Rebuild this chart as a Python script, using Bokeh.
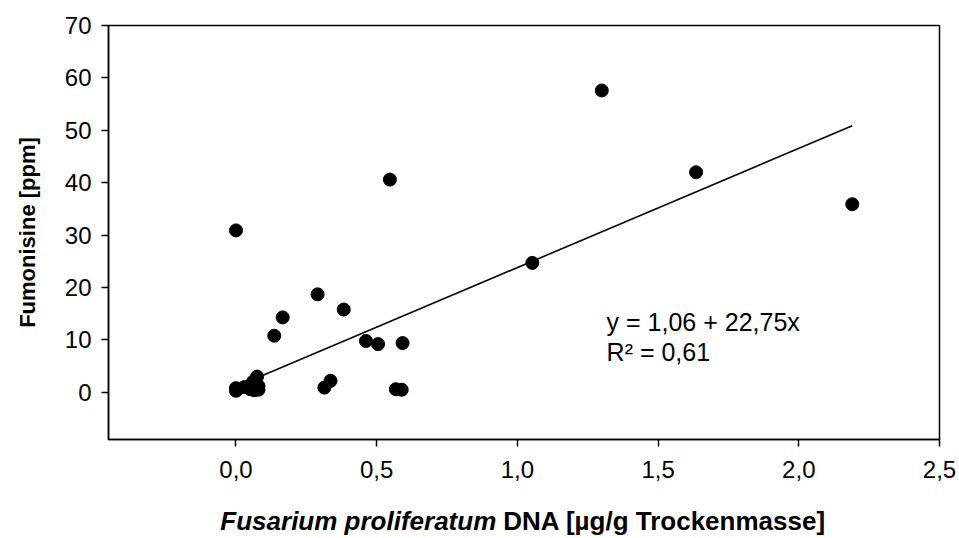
import numpy as np
from bokeh.plotting import figure
from bokeh.layouts import column
from bokeh.models import Range1d, FixedTicker, CustomJSTickFormatter, Label
from bokeh.core.properties import value
from bokeh.embed import file_html
from bokeh.resources import INLINE

# Data
dna = [0.0, 0.0, 0.005, 0.03, 0.05, 0.06, 0.065, 0.07, 0.075, 0.08, 0.08,
       0.136, 0.166, 0.29, 0.314, 0.336, 0.383, 0.462, 0.505, 0.547, 0.568,
       0.589, 0.592, 1.053, 1.30, 1.635, 2.19, 0.0]
fumonisine = [0.3, 0.8, 0.5, 1.0, 0.6, 2.0, 0.4, 1.5, 3.0, 1.2, 0.5,
              10.8, 14.3, 18.7, 0.9, 2.2, 15.8, 9.8, 9.2, 40.6, 0.6,
              0.5, 9.4, 24.7, 57.6, 42.0, 35.9, 30.9]
intercept = 1.06
slope = 22.75
r_squared = 0.61
x_ticks = [0.0, 0.5, 1.0, 1.5, 2.0, 2.5]
y_ticks = [0, 10, 20, 30, 40, 50, 60, 70]
x_label_italic = "Fusarium proliferatum"
x_label_bold = "DNA [µg/g Trockenmasse]"
y_label = "Fumonisine [ppm]"

FONT = "Liberation Sans"
xr = Range1d(-0.453, 2.5)

p = figure(width=959, height=490, output_backend="svg", toolbar_location=None,
           x_range=xr, y_range=Range1d(-9, 70),
           min_border_left=108, min_border_right=20, min_border_top=25,
           min_border_bottom=51)
p.xgrid.visible = False
p.ygrid.visible = False
p.outline_line_color = "black"
p.outline_line_width = 1.5
p.background_fill_color = "white"
p.border_fill_color = "white"

# regression line
lx = np.array([min(dna), max(dna)])
ly = intercept + slope * lx
p.line(lx, ly, line_color="black", line_width=1.6)

p.scatter(dna, fumonisine, size=13, fill_color="black", line_color="black")

for ax in (p.xaxis[0], p.yaxis[0]):
    ax.major_tick_in = 0
    ax.major_tick_out = 7
    ax.minor_tick_in = 0
    ax.minor_tick_out = 0
    ax.axis_line_width = 1.5
    ax.major_tick_line_width = 1.5
    ax.major_label_text_font = FONT
    ax.major_label_text_font_size = "24px"
    ax.major_label_text_color = "black"

p.xaxis.ticker = FixedTicker(ticks=x_ticks)
p.yaxis.ticker = FixedTicker(ticks=y_ticks)
p.xaxis.formatter = CustomJSTickFormatter(code="return tick.toFixed(1).replace('.', ',');")
p.xaxis.major_label_standoff = 14
p.yaxis.major_label_standoff = 10

p.yaxis.axis_label = y_label
p.yaxis.axis_label_text_font = FONT
p.yaxis.axis_label_text_font_style = "bold"
p.yaxis.axis_label_text_font_size = "22px"
p.yaxis.axis_label_text_color = "black"
p.yaxis.axis_label_standoff = 22

eq = "y = " + f"{intercept:.2f}".replace(".", ",") + " + " + f"{slope:.2f}".replace(".", ",") + "x"
r2 = "R² = " + f"{r_squared:.2f}".replace(".", ",")
p.add_layout(Label(x=1.317, y=13.36, text=eq, text_align="left", text_baseline="alphabetic",
                   text_font=FONT, text_font_size="25px", text_color="black"))
p.add_layout(Label(x=1.317, y=7.63, text=r2, text_align="left", text_baseline="alphabetic",
                   text_font=FONT, text_font_size="25px", text_color="black"))

# second strip carrying the two-style x-axis title
p2 = figure(width=959, height=48, output_backend="svg", toolbar_location=None,
            x_range=xr, y_range=Range1d(0, 48),
            min_border_left=108, min_border_right=20, min_border_top=0,
            min_border_bottom=0)
p2.axis.visible = False
p2.xgrid.visible = False
p2.ygrid.visible = False
p2.outline_line_color = None
p2.background_fill_color = "white"
p2.border_fill_color = "white"
p2.text(x=[0.925], y=[18], text=[x_label_italic], text_align="right",
        text_baseline="alphabetic", text_font=value(FONT), text_font_size="26px",
        text_font_style="bold italic", text_color="black")
p2.text(x=[0.95], y=[18], text=[x_label_bold], text_align="left",
        text_baseline="alphabetic", text_font=value(FONT), text_font_size="26px",
        text_font_style="bold", text_color="black")

layout = column(p, p2, spacing=0)
open("out.html", "w").write(file_html(layout, INLINE))
